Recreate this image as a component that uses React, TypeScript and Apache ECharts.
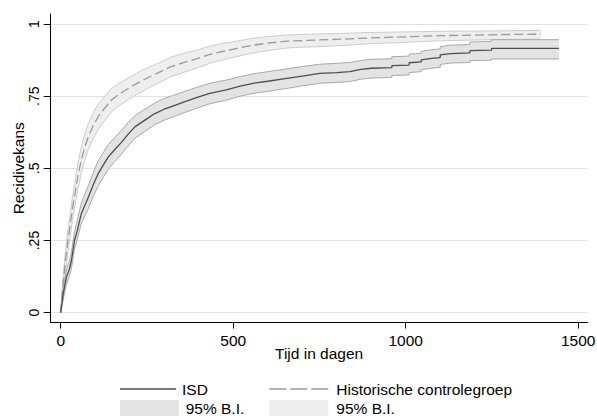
import React, { useEffect, useRef } from "react";
import * as echarts from "echarts";

// ISD group (cumulative recidivism); repeated times mark visible steps
const isdTime = [0, 8, 17, 25, 31, 40, 46, 60, 80, 95, 109, 125, 138, 155, 176, 195, 215, 245, 273, 300, 321, 360, 400, 432, 480, 520, 558, 600, 655, 700, 751, 800, 838, 870, 900, 960, 960, 1010, 1010, 1045, 1045, 1075, 1100, 1100, 1130, 1186, 1186, 1249, 1249, 1444];
const isdValue = [0, 0.07, 0.125, 0.15, 0.18, 0.25, 0.275, 0.344, 0.4, 0.445, 0.483, 0.515, 0.54, 0.563, 0.59, 0.618, 0.644, 0.668, 0.69, 0.705, 0.714, 0.731, 0.748, 0.76, 0.772, 0.785, 0.795, 0.802, 0.812, 0.82, 0.829, 0.832, 0.835, 0.843, 0.847, 0.849, 0.856, 0.858, 0.866, 0.869, 0.876, 0.881, 0.884, 0.893, 0.898, 0.9, 0.908, 0.91, 0.916, 0.916];
const isdLower = [0, 0.05, 0.1, 0.125, 0.152, 0.22, 0.245, 0.31, 0.36, 0.405, 0.44, 0.472, 0.497, 0.521, 0.549, 0.577, 0.604, 0.629, 0.652, 0.667, 0.676, 0.694, 0.711, 0.724, 0.736, 0.75, 0.76, 0.767, 0.777, 0.786, 0.795, 0.798, 0.801, 0.809, 0.813, 0.815, 0.822, 0.824, 0.832, 0.835, 0.842, 0.847, 0.85, 0.86, 0.865, 0.867, 0.873, 0.875, 0.879, 0.879];
const isdUpper = [0, 0.09, 0.15, 0.178, 0.21, 0.28, 0.31, 0.38, 0.44, 0.487, 0.527, 0.558, 0.583, 0.605, 0.632, 0.658, 0.683, 0.706, 0.727, 0.742, 0.751, 0.767, 0.783, 0.795, 0.806, 0.818, 0.828, 0.835, 0.845, 0.853, 0.861, 0.864, 0.867, 0.874, 0.878, 0.88, 0.887, 0.889, 0.896, 0.899, 0.906, 0.911, 0.914, 0.922, 0.927, 0.929, 0.938, 0.94, 0.946, 0.946];

// Historical control group
const histTime = [0, 5, 12, 20, 27, 34, 41, 50, 60, 70, 80, 95, 109, 125, 147, 170, 196, 225, 254, 285, 321, 360, 400, 432, 480, 520, 558, 600, 655, 700, 751, 820, 896, 1000, 1100, 1200, 1300, 1392];
const histValue = [0, 0.08, 0.16, 0.24, 0.3, 0.36, 0.41, 0.475, 0.53, 0.575, 0.61, 0.65, 0.68, 0.705, 0.737, 0.758, 0.777, 0.797, 0.815, 0.833, 0.853, 0.868, 0.882, 0.895, 0.908, 0.918, 0.927, 0.934, 0.941, 0.943, 0.945, 0.948, 0.952, 0.956, 0.96, 0.962, 0.964, 0.965];
const histLower = [0, 0.06, 0.13, 0.2, 0.26, 0.32, 0.37, 0.43, 0.485, 0.53, 0.565, 0.605, 0.635, 0.662, 0.695, 0.718, 0.738, 0.759, 0.778, 0.797, 0.818, 0.834, 0.85, 0.864, 0.879, 0.89, 0.9, 0.908, 0.917, 0.92, 0.922, 0.926, 0.932, 0.937, 0.942, 0.945, 0.947, 0.948];
const histUpper = [0, 0.1, 0.19, 0.28, 0.34, 0.4, 0.45, 0.52, 0.575, 0.62, 0.655, 0.695, 0.722, 0.746, 0.777, 0.796, 0.814, 0.833, 0.85, 0.866, 0.886, 0.9, 0.912, 0.924, 0.935, 0.943, 0.951, 0.957, 0.962, 0.964, 0.966, 0.968, 0.971, 0.973, 0.975, 0.976, 0.977, 0.978];

const xTicks = [0, 500, 1000, 1500];
const yTicks = [0, 0.25, 0.5, 0.75, 1];
const yTickLabels = ["0", ".25", ".5", ".75", "1"];

const FONT = "'Liberation Sans', Arial, Helvetica, sans-serif";

const zip = (t: number[], v: number[]) => t.map((x, i) => [x, v[i]]);

const SOLID_ICON = "path://M0,0h56v1.3h-56z";
const DASH_ICON = "path://M0,0h17v1.3h-17zM21,0h17v1.3h-17zM42,0h17v1.3h-17z";

export default function App() {
  const ref = useRef<HTMLDivElement>(null);
  useEffect(() => {
    if (!ref.current) return;
    const chart = echarts.init(ref.current, undefined, { renderer: "svg" });
    const isdEdge = "#a9a9a9";
    const isdFill = "#e3e3e3";
    const histEdge = "#cdcdcd";
    const histFill = "#eeeeee";
    const nameMap: Record<string, string> = { ISD_CI: "95% B.I.", HIST_CI: "95% B.I." };

    const band = (name: string, t: number[], lo: number[], hi: number[], fill: string, edge: string, z: number) => ({
      name,
      type: "custom",
      coordinateSystem: "cartesian2d",
      silent: true,
      z,
      clip: true,
      itemStyle: { color: fill },
      data: [[t[0], lo[0]]],
      renderItem: (_params: any, api: any) => {
        const up = zip(t, hi).map((p) => api.coord(p));
        const low = zip(t, lo).map((p) => api.coord(p));
        return {
          type: "group",
          children: [
            { type: "polygon", shape: { points: [...up, ...low.slice().reverse()] }, style: { fill, stroke: null } },
            { type: "polyline", shape: { points: up }, style: { stroke: edge, fill: null, lineWidth: 1 } },
            { type: "polyline", shape: { points: low }, style: { stroke: edge, fill: null, lineWidth: 1 } },
          ],
        };
      },
    });

    const legendBase = {
      padding: 0,
      orient: "horizontal",
      itemHeight: 14,
      selectedMode: false,
      formatter: (n: string) => nameMap[n] || n,
    };
    const txt = (padLeft: number) => ({
      fontSize: 15.5,
      color: "#000",
      fontFamily: FONT,
      padding: [0, 0, 0, padLeft],
    });

    chart.setOption({
      animation: false,
      backgroundColor: "#ffffff",
      textStyle: { fontFamily: FONT },
      grid: { left: 50.7, right: 9.5, top: 14, bottom: 93.5, containLabel: false, outerBoundsMode: "none" },
      xAxis: {
        type: "value",
        min: -29,
        max: 1527,
        name: "Tijd in dagen",
        nameLocation: "middle",
        nameGap: 23,
        nameMoveOverlap: false,
        nameTextStyle: { fontSize: 15.5, color: "#000", fontFamily: FONT },
        axisLine: { show: true, onZero: false, lineStyle: { color: "#000", width: 1 } },
        axisTick: { show: true, length: 6, customValues: xTicks, lineStyle: { color: "#000", width: 1 } },
        axisLabel: {
          customValues: xTicks,
          fontSize: 15.5,
          color: "#000",
          margin: 10,
          fontFamily: FONT,
          formatter: (v: number) => String(Math.round(v)),
        },
        splitLine: { show: false },
      },
      yAxis: {
        type: "value",
        min: -0.034,
        max: 1.035,
        name: "Recidivekans",
        nameLocation: "middle",
        nameGap: 24,
        nameMoveOverlap: false,
        nameTextStyle: { fontSize: 15.5, color: "#000", fontFamily: FONT },
        axisLine: { show: true, onZero: false, lineStyle: { color: "#000", width: 1 } },
        axisTick: { show: true, length: 7, customValues: yTicks, lineStyle: { color: "#000", width: 1 } },
        axisLabel: {
          customValues: yTicks,
          rotate: 90,
          fontSize: 14,
          color: "#000",
          margin: 10,
          fontFamily: FONT,
          formatter: (v: number) => {
            const i = yTicks.findIndex((t) => Math.abs(t - v) < 1e-6);
            return i >= 0 ? yTickLabels[i] : "";
          },
        },
        splitLine: { show: true, lineStyle: { color: "#e1e1e1", width: 1.2 } },
      },
      legend: [
        {
          ...legendBase,
          left: 120,
          top: 381,
          itemWidth: 56,
          textStyle: txt(1),
          data: [{ name: "ISD", icon: SOLID_ICON, itemStyle: { color: "#4d4d4d", borderWidth: 0 } }],
        },
        {
          ...legendBase,
          left: 120,
          top: 400,
          itemWidth: 58.7,
          itemHeight: 17,
          textStyle: txt(2),
          data: [{ name: "ISD_CI", icon: "rect", itemStyle: { color: isdFill, borderWidth: 0 } }],
        },
        {
          ...legendBase,
          left: 269.3,
          top: 381,
          itemWidth: 59,
          textStyle: txt(3),
          data: [{ name: "Historische controlegroep", icon: DASH_ICON, itemStyle: { color: "#999999", borderWidth: 0 } }],
        },
        {
          ...legendBase,
          left: 269.3,
          top: 400,
          itemWidth: 59,
          itemHeight: 17,
          textStyle: txt(3),
          data: [{ name: "HIST_CI", icon: "rect", itemStyle: { color: histFill, borderWidth: 0 } }],
        },
      ],
      series: [
        band("HIST_CI", histTime, histLower, histUpper, histFill, histEdge, 1),
        band("ISD_CI", isdTime, isdLower, isdUpper, isdFill, isdEdge, 2),
        {
          name: "Historische controlegroep",
          type: "line",
          symbol: "none",
          silent: true,
          data: zip(histTime, histValue),
          lineStyle: { color: "#999999", width: 1.3, type: [9, 4] },
          itemStyle: { color: "#999999" },
          z: 3,
        },
        {
          name: "ISD",
          type: "line",
          symbol: "none",
          silent: true,
          data: zip(isdTime, isdValue),
          lineStyle: { color: "#4d4d4d", width: 1.3 },
          itemStyle: { color: "#4d4d4d" },
          z: 4,
        },
      ],
    });
    return () => chart.dispose();
  }, []);
  return (
    <div
      ref={ref}
      style={{ position: "fixed", left: 0, top: 0, width: 597, height: 416, background: "#fff" }}
    />
  );
}
